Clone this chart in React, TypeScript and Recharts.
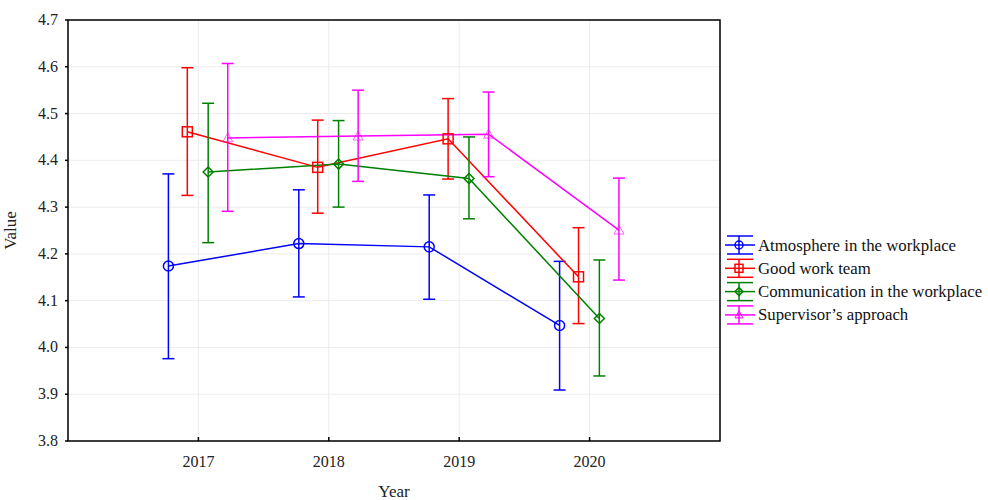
import React from 'react'
import { LineChart, Line, XAxis, YAxis, CartesianGrid, ErrorBar, ReferenceArea } from 'recharts'

const years = [2017, 2018, 2019, 2020]
const yTicks = [3.8, 3.9, 4.0, 4.1, 4.2, 4.3, 4.4, 4.5, 4.6, 4.7]

const atmosphere = [4.174, 4.222, 4.215, 4.047]
const atmosphereLow = [3.976, 4.108, 4.103, 3.909]
const atmosphereHigh = [4.371, 4.337, 4.326, 4.184]

const team = [4.461, 4.385, 4.446, 4.151]
const teamLow = [4.325, 4.287, 4.36, 4.051]
const teamHigh = [4.598, 4.486, 4.532, 4.256]

const communication = [4.375, 4.392, 4.361, 4.062]
const communicationLow = [4.224, 4.3, 4.275, 3.939]
const communicationHigh = [4.522, 4.485, 4.45, 4.187]

const supervisor = [4.448, 4.452, 4.456, 4.251]
const supervisorLow = [4.291, 4.355, 4.365, 4.144]
const supervisorHigh = [4.607, 4.55, 4.546, 4.362]

const FONT = '"Liberation Serif", "Times New Roman", serif'

// dodge each series around the year so the error bars don't overlap
const build = (vals: number[], lo: number[], hi: number[], shift: number) =>
  years.map((yr, i) => ({ x: yr + shift, y: vals[i], err: [vals[i] - lo[i], hi[i] - vals[i]] }))

const CircleDot = (color: string) => (p: any) => (
  <circle key={p.key} cx={p.cx} cy={p.cy} r={5} fill="none" stroke={color} strokeWidth={1.5} />
)
const SquareDot = (color: string) => (p: any) => (
  <rect key={p.key} x={p.cx - 5} y={p.cy - 5} width={10} height={10} fill="none" stroke={color} strokeWidth={1.5} />
)
const DiamondDot = (color: string) => (p: any) => (
  <path key={p.key} d={`M${p.cx},${p.cy - 5}L${p.cx + 5},${p.cy}L${p.cx},${p.cy + 5}L${p.cx - 5},${p.cy}Z`} fill="none" stroke={color} strokeWidth={1.5} />
)
const TriangleDot = (color: string) => (p: any) => (
  <path key={p.key} d={`M${p.cx},${p.cy - 5}L${p.cx + 5},${p.cy + 4}L${p.cx - 5},${p.cy + 4}Z`} fill="none" stroke={color} strokeWidth={1} opacity={0.6} />
)

const series = [
  { name: 'Atmosphere in the workplace', color: '#0000ff', data: build(atmosphere, atmosphereLow, atmosphereHigh, -0.23), dot: CircleDot, shape: 'circle' },
  { name: 'Good work team', color: '#ff0000', data: build(team, teamLow, teamHigh, -0.085), dot: SquareDot, shape: 'square' },
  { name: 'Communication in the workplace', color: '#008000', data: build(communication, communicationLow, communicationHigh, 0.075), dot: DiamondDot, shape: 'diamond' },
  { name: 'Supervisor\u2019s approach', color: '#ff00ff', data: build(supervisor, supervisorLow, supervisorHigh, 0.225), dot: TriangleDot, shape: 'triangle' },
]

const XTick = (p: any) => (
  <text x={p.x} y={p.y + 30} textAnchor="middle" fontFamily={FONT} fontSize={16} fill="#222" style={{ fontFamily: FONT }}>
    {p.payload.value}
  </text>
)
const YTick = (p: any) => (
  <text x={p.x - 1} y={p.y + 5} textAnchor="end" fontFamily={FONT} fontSize={16} fill="#222" style={{ fontFamily: FONT }}>
    {Number(p.payload.value).toFixed(1)}
  </text>
)

function LegendBox() {
  return (
    <svg width={267} height={100} style={{ overflow: 'hidden', display: 'block' }}>
      {series.map((s, i) => {
        const cy = 13 + i * 23.3
        const cx = 18
        let marker
        if (s.shape === 'circle') marker = <circle cx={cx} cy={cy} r={4} fill="none" stroke={s.color} strokeWidth={1.5} />
        else if (s.shape === 'square') marker = <rect x={cx - 4} y={cy - 4} width={8} height={8} fill="none" stroke={s.color} strokeWidth={1.5} />
        else if (s.shape === 'diamond') marker = <path d={`M${cx},${cy - 4}L${cx + 4},${cy}L${cx},${cy + 4}L${cx - 4},${cy}Z`} fill="none" stroke={s.color} strokeWidth={1.5} />
        else marker = <path d={`M${cx},${cy - 4}L${cx + 4},${cy + 3}L${cx - 4},${cy + 3}Z`} fill="none" stroke={s.color} strokeWidth={1} />
        return (
          <g key={s.name}>
            <line x1={4} x2={34} y1={cy} y2={cy} stroke={s.color} strokeWidth={1.5} />
            <line x1={cx} x2={cx} y1={cy - 9} y2={cy + 9} stroke={s.color} strokeWidth={1.5} />
            <line x1={6} x2={32} y1={cy - 9} y2={cy - 9} stroke={s.color} strokeWidth={1.5} />
            <line x1={6} x2={32} y1={cy + 9} y2={cy + 9} stroke={s.color} strokeWidth={1.5} />
            {marker}
            <text x={37} y={cy + 5.5} fontFamily={FONT} fontSize={16.8} fill="#111">{s.name}</text>
          </g>
        )
      })}
    </svg>
  )
}

export default function App() {
  return (
    <div style={{ position: 'absolute', left: 0, top: 0, width: 988, height: 500, background: '#fff', fontFamily: FONT, overflow: 'hidden' }}>
      <LineChart width={988} height={500} margin={{ top: 20, right: 268, bottom: 0, left: 8 }} style={{ fontFamily: FONT }}>
        <CartesianGrid stroke="#ececec" strokeWidth={1} />
        <XAxis
          type="number"
          dataKey="x"
          domain={[2016, 2021]}
          ticks={years}
          allowDataOverflow
          height={59}
          axisLine={false}
          tickSize={-4}
          tickMargin={0}
          tickLine={{ stroke: '#000', strokeWidth: 1.5 }}
          tick={XTick}
          label={{ value: 'Year', position: 'insideBottom', offset: 3, style: { fontSize: 17, fill: '#222', fontFamily: FONT } }}
        />
        <YAxis
          type="number"
          domain={[3.8, 4.7]}
          ticks={yTicks}
          allowDataOverflow
          width={60}
          axisLine={false}
          tickSize={3}
          tickMargin={6}
          tickLine={{ stroke: '#000', strokeWidth: 1.5 }}
          tick={YTick}
          label={{ value: 'Value', angle: -90, position: 'insideLeft', offset: 2, style: { fontSize: 17, fill: '#222', textAnchor: 'middle', fontFamily: FONT } }}
        />
        <YAxis
          yAxisId="r"
          orientation="right"
          type="number"
          domain={[3.8, 4.7]}
          ticks={yTicks}
          width={0}
          axisLine={false}
          tickSize={-4}
          tickLine={{ stroke: '#000', strokeWidth: 1.5 }}
          tick={() => <g />}
        />
        <ReferenceArea x1={2016} x2={2021} y1={3.8} y2={4.7} fill="none" stroke="#000" strokeWidth={1.5} fillOpacity={0} />
        {series.map((s) => (
          <Line
            key={s.name}
            data={s.data}
            dataKey="y"
            name={s.name}
            stroke={s.color}
            strokeWidth={1.5}
            dot={s.dot(s.color)}
            activeDot={false}
            isAnimationActive={false}
          >
            <ErrorBar dataKey="err" direction="y" width={6} stroke={s.color} strokeWidth={1.5} isAnimationActive={false} />
          </Line>
        ))}
      </LineChart>
      <div style={{ position: 'absolute', left: 721, top: 232 }}>
        <LegendBox />
      </div>
    </div>
  )
}
